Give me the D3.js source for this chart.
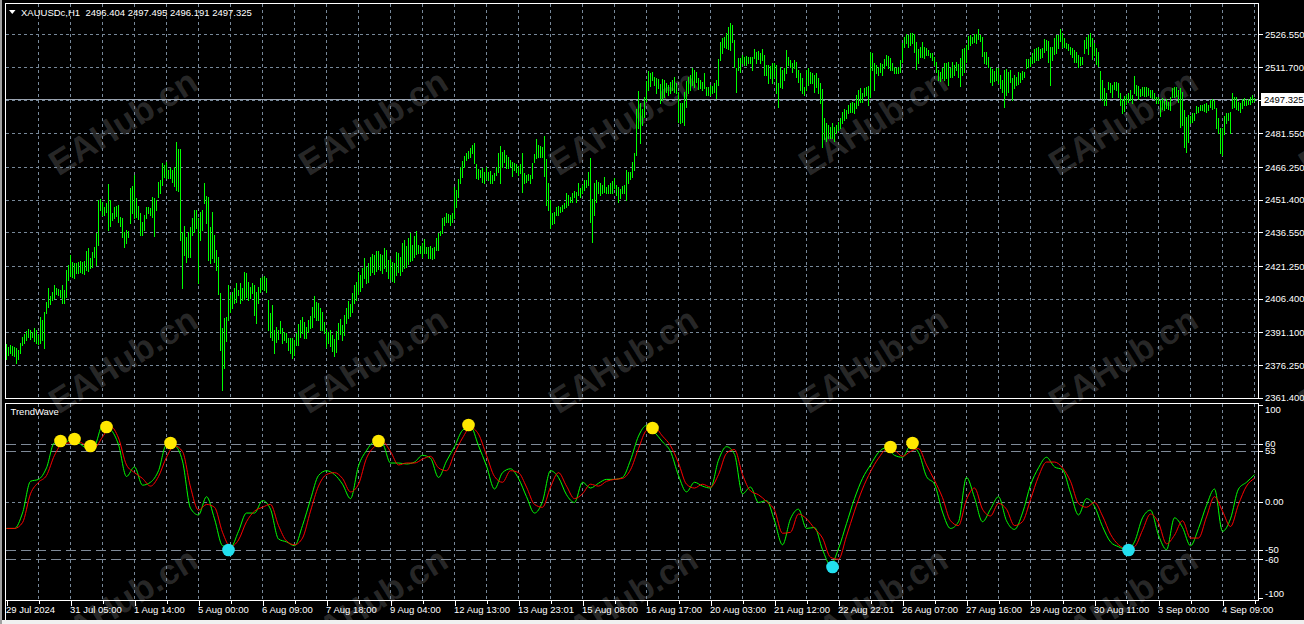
<!DOCTYPE html>
<html>
<head>
<meta charset="utf-8">
<script src="https://cdn.jsdelivr.net/npm/d3@7"></script>
<style>
  html, body { margin: 0; padding: 0; background: #000; }
  svg { display: block; }
  text { font-family: "Liberation Sans", Arial, sans-serif; }
</style>
</head>
<body>
<div id="chartId"></div>
<script>
/* global d3 */

// ---- chart values ----

var symbolName = "XAUUSDc,H1";
var lastQuote = [2496.404, 2497.495, 2496.191, 2497.325];
var bidPrice = 2497.325;
var indicatorName = "TrendWave";

var priceTicks = [2526.55, 2511.7, 2496.85, 2481.55, 2466.25, 2451.4, 2436.55, 2421.25, 2406.4, 2391.1, 2376.25, 2361.4];

var timeLabels = ["29 Jul 2024", "31 Jul 05:00", "1 Aug 14:00", "5 Aug 00:00", "6 Aug 09:00", "7 Aug 18:00",
                  "9 Aug 04:00", "12 Aug 13:00", "13 Aug 23:01", "15 Aug 08:00", "16 Aug 17:00", "20 Aug 03:00",
                  "21 Aug 12:00", "22 Aug 22:01", "26 Aug 07:00", "27 Aug 16:00", "29 Aug 02:00", "30 Aug 11:00",
                  "3 Sep 00:00", "4 Sep 09:00"];

var waveTicks = [100, 60, 53, 0, -50, -60, -100];
var waveLevels = [60, 53, -50, -60];

// H1 bar highs / lows, one per hour
var barHigh = [
  2385.7, 2384.6, 2385.4, 2384.9, 2384.6, 2383.8, 2383.1, 2386.1, 2388.8, 2390.3, 2391.9, 2392.5, 2392.2, 2391.4, 2392.9, 2392.2,
  2389.9, 2397.9, 2396.7, 2400.5, 2405.0, 2411.1, 2407.6, 2409.6, 2412.6, 2411.1, 2410.6, 2410.3, 2412.6, 2410.3, 2419.4, 2421.7,
  2426.3, 2423.2, 2422.5, 2422.5, 2423.2, 2423.7, 2423.2, 2423.7, 2428.2, 2429.3, 2424.7, 2427.8, 2429.7, 2436.1, 2451.2, 2451.6,
  2450.5, 2448.2, 2450.0, 2458.5, 2451.2, 2445.2, 2447.9, 2448.5, 2449.0, 2443.7, 2442.9, 2436.9, 2437.6, 2437.3, 2456.6, 2457.6,
  2462.6, 2452.0, 2448.5, 2445.2, 2441.4, 2444.4, 2448.2, 2448.2, 2447.5, 2452.5, 2452.0, 2451.2, 2459.6, 2460.3, 2467.9, 2467.2,
  2468.7, 2464.9, 2465.6, 2464.9, 2466.4, 2477.8, 2474.3, 2474.3, 2436.9, 2439.4, 2434.6, 2436.9, 2439.1, 2442.9, 2446.7, 2446.7,
  2442.9, 2445.9, 2446.7, 2458.8, 2453.1, 2452.8, 2439.1, 2445.9, 2435.3, 2428.5, 2425.5, 2409.1, 2392.9, 2397.5, 2398.2, 2412.6,
  2408.1, 2409.6, 2411.1, 2413.4, 2410.3, 2413.4, 2411.1, 2418.7, 2417.9, 2414.1, 2411.9, 2413.4, 2412.6, 2409.6, 2411.9, 2415.7,
  2416.1, 2416.7, 2415.7, 2405.8, 2399.7, 2403.5, 2392.2, 2393.7, 2392.2, 2396.4, 2392.9, 2391.4, 2390.6, 2388.4, 2388.4, 2388.4,
  2387.6, 2390.6, 2394.9, 2396.7, 2398.2, 2395.9, 2393.7, 2396.7, 2398.5, 2402.8, 2407.6, 2405.0, 2404.3, 2402.0, 2400.5, 2395.9, 2392.2, 2391.4,
  2392.0, 2390.0, 2388.0, 2391.5, 2395.5, 2397.0, 2394.5, 2399.0, 2402.0, 2405.5, 2404.0, 2409.0, 2412.5, 2414.0, 2418.5, 2417.0, 2420.5,
  2424.9, 2421.0, 2422.5, 2425.5, 2426.6, 2426.2, 2428.1, 2428.1, 2426.6, 2426.1, 2429.3, 2428.5, 2424.0, 2424.3, 2423.0, 2422.5,
  2427.6, 2427.0, 2425.5, 2431.5, 2433.1, 2430.3, 2433.8, 2436.4, 2430.6, 2434.9, 2437.3, 2430.8, 2430.3,
  2431.5, 2433.5, 2430.0, 2430.0, 2430.3, 2429.3, 2429.7, 2433.8, 2436.1, 2437.3, 2443.2, 2443.7, 2445.2, 2444.9, 2444.4, 2445.5,
  2457.3, 2455.8, 2460.6, 2466.4, 2469.1, 2471.2, 2472.8, 2473.7, 2474.7, 2476.2, 2477.0, 2467.6, 2465.2, 2464.9, 2465.6, 2464.1,
  2466.4, 2464.1, 2464.5, 2462.6, 2463.6, 2466.4, 2472.8, 2475.8, 2473.2, 2474.0, 2471.7, 2470.6, 2469.4, 2468.7, 2468.2, 2467.4,
  2466.7, 2467.4, 2472.5, 2463.4, 2462.6, 2463.1, 2462.6, 2467.9, 2472.1, 2479.0, 2476.2, 2475.8, 2475.5, 2480.3, 2469.7, 2458.8,
  2451.2, 2445.5, 2445.9, 2448.2, 2448.5, 2448.2, 2449.0, 2449.7, 2454.3, 2453.5, 2452.8, 2454.3, 2455.5, 2455.0, 2458.8, 2456.5,
  2458.0, 2460.3, 2460.3, 2464.1, 2470.2, 2451.5, 2459.1, 2460.3, 2459.6, 2458.8, 2458.0, 2461.8, 2457.3, 2458.0, 2458.8, 2459.9,
  2461.1, 2458.0, 2457.3, 2456.1, 2457.6, 2458.0, 2464.9, 2464.1, 2464.1, 2468.7, 2472.5, 2492.5, 2500.9, 2495.5,
  2492.4, 2497.9, 2505.5, 2510.0, 2508.8, 2509.6, 2507.3, 2506.8, 2506.1, 2504.0, 2506.1, 2505.8, 2504.6, 2503.5, 2505.0, 2505.8,
  2507.3, 2504.6, 2500.5, 2495.2, 2495.5, 2500.5, 2505.5, 2507.3, 2508.0, 2511.1, 2510.3, 2509.6, 2506.5, 2505.8, 2505.0, 2508.8,
  2502.7, 2502.7, 2503.5, 2503.1, 2504.3, 2505.8, 2515.2, 2523.2, 2524.7, 2525.5, 2527.0, 2530.0, 2531.5, 2530.8, 2524.0, 2511.1,
  2515.6, 2515.6, 2517.1, 2516.4, 2516.7, 2516.1, 2516.4, 2516.4, 2519.7, 2518.7, 2519.1, 2518.2, 2519.7, 2517.1, 2512.6, 2512.6,
  2512.1, 2513.7, 2513.4, 2512.6, 2504.3, 2511.8, 2510.3, 2511.1, 2519.4, 2516.4, 2514.9, 2513.4, 2514.9, 2514.1, 2510.3, 2508.8,
  2506.5, 2502.7, 2510.3, 2511.1, 2509.6, 2508.8, 2508.0, 2508.8, 2506.5, 2504.3, 2501.5, 2488.4, 2486.1, 2485.3, 2484.6, 2486.1,
  2484.6, 2485.3, 2486.8, 2488.4, 2491.4, 2492.4, 2492.2, 2494.4, 2495.2, 2495.9, 2495.2, 2499.0, 2501.2, 2502.0, 2499.7, 2502.0,
  2502.7, 2503.1, 2518.7, 2518.2, 2513.4, 2512.6, 2511.8, 2513.4, 2513.0, 2515.2, 2517.1, 2516.7, 2515.6, 2513.4, 2511.8, 2511.1,
  2511.8, 2514.9, 2522.4, 2525.5, 2526.7, 2526.2, 2527.0, 2527.0, 2526.7, 2523.2, 2519.7, 2520.9, 2523.2, 2520.9, 2520.2, 2519.4,
  2518.2, 2517.9, 2516.4, 2514.1, 2510.3, 2509.6, 2511.1, 2513.4, 2513.4, 2514.1, 2511.1, 2514.1, 2512.6, 2514.1, 2513.0,
  2515.6, 2519.7, 2520.2, 2521.7, 2525.8, 2526.2, 2525.5, 2526.7, 2526.7, 2528.8, 2526.2, 2525.5, 2518.7, 2518.7, 2516.4, 2511.5,
  2510.6, 2510.0, 2511.1, 2511.1, 2508.0, 2505.8, 2510.3, 2510.6, 2509.6, 2510.3, 2506.5, 2508.0, 2507.3, 2509.6, 2508.8, 2510.0,
  2509.6, 2515.2, 2515.2, 2516.4, 2518.2, 2519.7, 2520.2, 2520.9, 2519.7, 2520.2, 2524.4, 2524.0, 2523.7, 2520.9, 2520.6, 2524.7,
  2526.2, 2526.2, 2528.8, 2527.0, 2524.7, 2522.4, 2522.1, 2520.9, 2520.2, 2519.4, 2518.7, 2517.1, 2516.4, 2516.4, 2524.0, 2525.5,
  2526.2, 2527.0, 2524.7, 2522.4, 2520.2, 2518.7, 2510.0, 2505.8, 2502.0, 2499.7, 2505.0, 2504.3, 2503.5, 2505.0, 2505.0, 2504.6,
  2499.7, 2497.0, 2498.5, 2499.0, 2499.7, 2501.2, 2499.0, 2507.6, 2503.5, 2503.1, 2501.5, 2502.7, 2502.7, 2502.4, 2502.0, 2501.2,
  2501.2, 2499.7, 2498.2, 2498.2, 2496.7, 2497.4, 2496.4, 2497.0, 2495.9, 2497.9, 2502.0, 2502.7, 2502.4, 2501.2, 2502.0, 2500.5,
  2492.2, 2489.1, 2489.9, 2489.4, 2490.6, 2490.6, 2494.1, 2493.7, 2494.4, 2494.4, 2494.9, 2495.5, 2494.4, 2496.7, 2497.0, 2496.7,
  2492.9, 2488.4, 2483.8, 2483.8, 2489.4, 2490.6, 2490.9, 2491.4, 2500.0, 2498.2, 2497.9, 2495.9, 2495.2, 2497.0, 2497.4, 2496.7,
  2497.0, 2497.9, 2499.0, 2497.5
];

var barLow = [
  2378.8, 2380.8, 2381.6, 2380.8, 2380.3, 2377.0, 2378.8, 2381.6, 2385.4, 2386.4, 2387.6, 2388.8, 2387.9, 2388.8, 2387.3, 2386.4,
  2385.8, 2386.1, 2387.6, 2383.8, 2400.0, 2402.8, 2404.0, 2405.8, 2406.6, 2408.5, 2408.1, 2407.3, 2404.3, 2404.3, 2407.3, 2414.9,
  2416.7, 2416.4, 2415.7, 2417.9, 2417.9, 2418.7, 2417.9, 2417.6, 2419.4, 2419.1, 2420.2, 2420.9, 2425.5, 2421.7, 2430.8, 2446.7,
  2444.4, 2444.4, 2445.9, 2437.6, 2439.4, 2442.2, 2442.9, 2444.0, 2441.4, 2439.4, 2434.6, 2430.0, 2431.6, 2434.6, 2440.6, 2445.2,
  2442.9, 2443.4, 2442.5, 2435.3, 2435.3, 2437.6, 2442.9, 2445.2, 2444.4, 2443.7, 2434.9, 2446.7, 2452.8, 2454.3, 2458.1, 2461.9,
  2461.1, 2461.1, 2461.1, 2459.6, 2457.6, 2455.8, 2455.5, 2433.1, 2411.1, 2426.3, 2423.2, 2425.5, 2425.5, 2435.3, 2436.9, 2438.4,
  2413.7, 2433.1, 2437.6, 2449.7, 2440.6, 2424.0, 2422.5, 2424.7, 2423.2, 2419.4, 2408.5, 2383.1, 2364.9, 2374.7, 2387.3, 2396.7,
  2400.5, 2402.0, 2404.3, 2405.0, 2408.1, 2404.3, 2405.8, 2406.1, 2407.3, 2405.8, 2406.6, 2408.8, 2399.0, 2395.2, 2404.3, 2409.6,
  2410.6, 2410.3, 2409.6, 2392.2, 2389.1, 2387.6, 2381.6, 2386.9, 2387.9, 2390.6, 2386.1, 2387.6, 2386.9, 2383.1, 2381.6, 2379.3,
  2380.8, 2385.4, 2385.4, 2389.1, 2390.6, 2388.4, 2388.4, 2391.4, 2392.9, 2393.7, 2398.2, 2396.7, 2396.7, 2392.2, 2392.2, 2390.6, 2384.6, 2386.1,
  2385.0, 2382.5, 2380.5, 2382.0, 2388.0, 2390.5, 2387.5, 2390.0, 2395.5, 2397.5, 2398.5, 2400.5, 2404.5, 2406.0, 2408.5, 2410.0, 2411.5,
  2416.0, 2413.5, 2414.0, 2417.0, 2418.5, 2417.5, 2419.0, 2420.0, 2419.5, 2418.0, 2420.5, 2419.0, 2416.0, 2415.5, 2414.5, 2414.0,
  2417.0, 2418.5, 2417.0, 2419.0, 2420.5, 2421.0, 2422.0, 2423.5, 2424.0, 2425.5, 2426.5, 2427.0, 2427.0,
  2425.5, 2427.0, 2427.0, 2425.0, 2425.1, 2424.3, 2425.0, 2428.5, 2428.5, 2435.3, 2436.1, 2439.9, 2441.4, 2441.4, 2439.9, 2441.4,
  2442.9, 2448.2, 2452.8, 2458.8, 2461.8, 2466.4, 2469.4, 2470.2, 2470.6, 2472.8, 2467.9, 2461.1, 2460.6, 2461.5, 2459.6, 2458.8,
  2460.6, 2460.3, 2458.8, 2458.8, 2460.3, 2462.6, 2464.1, 2458.8, 2466.4, 2468.7, 2465.6, 2465.6, 2466.4, 2462.2, 2464.9, 2464.1,
  2462.6, 2463.4, 2455.0, 2458.8, 2459.6, 2460.3, 2458.8, 2461.1, 2468.7, 2470.2, 2470.9, 2470.9, 2470.6, 2462.2, 2449.0, 2446.7,
  2438.4, 2440.3, 2440.6, 2444.4, 2444.4, 2445.9, 2446.4, 2447.5, 2448.2, 2449.0, 2450.5, 2450.5, 2452.8, 2450.5, 2453.5, 2452.8,
  2454.3, 2455.8, 2457.3, 2458.0, 2441.4, 2432.3, 2444.4, 2450.5, 2454.3, 2453.5, 2454.3, 2455.0, 2454.6, 2454.3, 2454.6, 2454.3,
  2456.5, 2453.5, 2450.5, 2452.0, 2454.3, 2454.3, 2451.2, 2459.1, 2460.6, 2461.8, 2464.9, 2471.7, 2483.8, 2477.3,
  2485.3, 2488.8, 2496.4, 2501.2, 2503.1, 2505.8, 2503.5, 2499.7, 2502.0, 2495.2, 2496.7, 2498.2, 2500.5, 2499.0, 2499.7, 2501.2,
  2500.5, 2499.7, 2486.8, 2486.1, 2486.8, 2485.3, 2493.7, 2499.7, 2501.2, 2503.5, 2502.7, 2505.0, 2501.5, 2502.0, 2501.2, 2502.0,
  2499.0, 2499.0, 2499.0, 2499.7, 2500.5, 2497.4, 2503.5, 2514.9, 2517.9, 2520.9, 2520.2, 2519.7, 2519.4, 2523.2, 2511.8, 2500.5,
  2510.3, 2509.6, 2513.4, 2512.6, 2512.6, 2513.4, 2513.7, 2510.3, 2515.6, 2513.4, 2515.2, 2513.7, 2514.9, 2508.0, 2508.0, 2504.3,
  2506.5, 2504.3, 2507.3, 2499.7, 2493.7, 2502.7, 2502.0, 2505.8, 2508.8, 2512.6, 2511.5, 2509.6, 2511.1, 2507.3, 2505.0, 2501.2,
  2499.7, 2499.0, 2501.2, 2503.5, 2504.3, 2504.3, 2500.5, 2502.7, 2499.7, 2495.2, 2475.2, 2478.8, 2478.2, 2479.3, 2479.3, 2479.3,
  2478.2, 2481.8, 2483.1, 2483.8, 2486.1, 2487.6, 2488.4, 2490.6, 2491.4, 2491.4, 2490.6, 2492.9, 2494.4, 2495.9, 2495.9, 2498.5,
  2499.0, 2494.4, 2497.9, 2510.3, 2501.2, 2508.8, 2508.0, 2509.6, 2508.0, 2511.1, 2512.6, 2511.1, 2510.3, 2510.3, 2508.8, 2508.8,
  2508.8, 2509.6, 2514.1, 2520.9, 2522.4, 2520.9, 2521.7, 2522.4, 2518.7, 2510.6, 2513.4, 2516.4, 2516.4, 2515.6, 2517.1, 2517.1,
  2516.4, 2514.9, 2512.6, 2509.6, 2505.8, 2505.5, 2506.5, 2505.8, 2506.5, 2503.5, 2507.3, 2507.3, 2508.0, 2510.3, 2507.3,
  2503.1, 2508.0, 2509.6, 2514.1, 2519.7, 2521.7, 2522.4, 2523.2, 2522.4, 2524.3, 2523.7, 2516.7, 2513.4, 2513.0, 2511.8, 2505.0,
  2503.5, 2505.5, 2505.8, 2504.3, 2502.0, 2500.5, 2493.4, 2499.0, 2500.5, 2505.0, 2496.7, 2502.0, 2503.5, 2504.0, 2505.0, 2506.1,
  2507.3, 2511.1, 2511.8, 2512.1, 2513.4, 2514.1, 2514.9, 2514.9, 2515.6, 2516.1, 2518.7, 2519.4, 2514.1, 2503.5, 2514.9, 2517.6,
  2517.9, 2520.2, 2523.7, 2520.6, 2520.6, 2520.2, 2519.4, 2517.6, 2516.4, 2514.1, 2513.8, 2511.8, 2512.6, 2513.0, 2518.2, 2520.2,
  2517.6, 2521.2, 2515.2, 2517.1, 2513.0, 2512.1, 2497.4, 2496.7, 2494.4, 2494.4, 2501.5, 2500.5, 2498.2, 2501.5, 2501.2, 2498.2,
  2494.4, 2490.6, 2491.8, 2494.9, 2495.9, 2496.7, 2495.5, 2500.0, 2499.0, 2497.0, 2498.5, 2499.0, 2498.5, 2498.5, 2499.0, 2497.9,
  2497.4, 2497.0, 2495.5, 2495.2, 2489.4, 2492.4, 2492.2, 2492.9, 2492.4, 2492.2, 2498.2, 2497.9, 2498.5, 2495.9, 2484.6, 2485.3,
  2475.5, 2473.2, 2477.7, 2486.1, 2486.8, 2487.6, 2490.9, 2491.4, 2492.2, 2492.2, 2491.8, 2491.4, 2492.2, 2493.4, 2492.4, 2492.9,
  2483.8, 2481.5, 2472.4, 2471.7, 2481.2, 2486.1, 2487.6, 2481.8, 2492.9, 2493.7, 2492.4, 2492.2, 2491.4, 2492.9, 2494.4, 2494.4,
  2494.9, 2494.9, 2495.9, 2496.2
];

// TrendWave oscillator, one reading every 4 bars
var waveStep = 4;
var waveMain = [
  -28, -28, -12, 21, 23, 35, 61, 60, 64, 61,
  56, 58, 79, 75, 59, 26, 36, 17, 20, 32,
  59, 58, 42, -7, -14, 5, -18, -46, -48, -31,
  -12, -12, 1, -8, -39, -42, -46, -25, 2, 27,
  32, 28, 18, 3, 37, 53, 62, 60, 40, 40,
  39, 41, 48, 45, 25, 42, 57, 74, 78, 58,
  37, 13, 30, 34, 24, 5, -12, 0, 32, 25,
  7, -1, 20, 14, 19, 23, 23, 25, 43, 68,
  79, 72, 62, 52, 27, 10, 20, 16, 14, 43,
  57, 49, 8, 15, -1, 1, -20, -45, -18, -8,
  -28, -27, -50, -66, -49, -23, 3, 24, 38, 51,
  56, 48, 46, 58, 51, 26, 18, -11, -28, -21,
  25, 4, -21, -8, 5, -20, -29, -12, 17, 35,
  46, 36, 33, 9, -14, 3, -5, -26, -42, -47,
  -50, -42, -17, -9, -35, -50, -17, -27, -46, -28,
  -4, 13, -31, -18, 13, 20, 28
];
var waveSignal = [
  -28, -28, -22, 8, 20, 27, 48, 60, 61, 62,
  58, 56, 67, 78, 66, 38, 30, 24, 16, 26,
  46, 58, 52, 15, -9, -3, -6, -32, -47, -40,
  -21, -10, -6, -3, -25, -41, -45, -38, -10, 16,
  28, 30, 24, 10, 18, 45, 57, 62, 52, 38,
  40, 40, 44, 47, 35, 32, 50, 66, 77, 70,
  48, 26, 20, 32, 30, 15, -3, -6, 15, 30,
  16, 3, 8, 18, 16, 21, 23, 24, 33, 55,
  74, 77, 68, 58, 40, 18, 14, 18, 15, 28,
  50, 54, 28, 11, 7, 0, -9, -33, -32, -13,
  -18, -28, -38, -58, -60, -36, -10, 13, 31, 45,
  54, 53, 47, 52, 55, 38, 22, 4, -20, -25,
  2, 14, -8, -15, -2, -8, -25, -21, 2, 26,
  41, 41, 35, 21, -2, -6, -1, -15, -34, -45,
  -49, -47, -30, -13, -22, -44, -35, -20, -38, -38,
  -16, 5, -10, -26, -3, 16, 24
];

// signal dots
var peakBars = [27, 34, 42, 50, 82, 186, 231, 323, 442, 453];
var peakValues = [62.9, 65, 57.7, 77.4, 60.8, 62.9, 79.5, 76.4, 56.7, 60.8];
var troughBars = [111, 413, 561];
var troughValues = [-50.4, -68.1, -50.4];

var watermarkText = "EAHub.cn";


// ---- drawing ----

var chartModel = {};

onReady(function () {
    chartModel.init();
});

function onReady(fn) {
    if (document.readyState !== "loading") { fn(); } else { document.addEventListener("DOMContentLoaded", fn); }
}

(function(exports) {

    "use strict";

    var full = {w: 1304, h: 624};
    var mainArea = {left: 5.5, right: 1258.5, top: 3.5, bottom: 398.5};
    var subArea = {left: 5.5, right: 1258.5, top: 403.5, bottom: 600.5};

    var gridColor = "#778899";
    var barColor = "#00ff00";

    var svg, xScale, yPrice, yWave;


    exports.init = function() {

        svg = d3.select("#chartId").append("svg")
                .attr("width", full.w)
                .attr("height", full.h)
                .style("background", "#000");

        defineScales();

        drawWatermarks();
        drawGrid();
        drawPriceBars();
        drawWave();
        drawFrames();
        drawPriceAxis();
        drawWaveAxis();
        drawTimeAxis();
        drawTitles();
    };


    function defineScales() {
        xScale = d3.scaleLinear()
                   .domain([0, barHigh.length - 1])
                   .range([6.5, 1254.5]);

        yPrice = d3.scaleLinear()
                   .domain([2361.26, 2540.77])
                   .range([398, 3]);

        yWave = d3.scaleLinear()
                  .domain([-102.4, 102.4])
                  .range([600, 403]);
    }


    function crisp(v) {
        return Math.round(v) + 0.5;
    }


    function drawWatermarks() {
        var centers = [];
        [122, 360, 600].forEach(function(cy) {
            d3.range(6).forEach(function(k) { centers.push([123 + 250 * k, cy]); });
        });

        svg.append("g").selectAll("text")
           .data(centers)
           .enter()
           .append("text")
             .attr("transform", function(d) { return "translate(" + d[0] + "," + d[1] + ") rotate(-32)"; })
             .attr("text-anchor", "middle")
             .attr("dy", "0.35em")
             .style("font-family", "'Liberation Sans', Arial, sans-serif")
             .style("font-weight", "bold")
             .style("font-size", "35px")
             .attr("fill", "#ffffff")
             .attr("fill-opacity", 0.16)
             .text(watermarkText);
    }


    function drawGrid() {
        var gridBars = d3.range(16, barHigh.length, 16);
        var grid = svg.append("g")
                      .attr("stroke", gridColor)
                      .attr("stroke-width", 1)
                      .attr("stroke-dasharray", "3,3")
                      .attr("shape-rendering", "crispEdges");

        // vertical lines, both panes
        [mainArea, subArea].forEach(function(area) {
            grid.append("g").selectAll("line")
                .data(gridBars)
                .enter()
                .append("line")
                  .attr("x1", function(d) { return xScale(d); })
                  .attr("x2", function(d) { return xScale(d); })
                  .attr("y1", area.top)
                  .attr("y2", area.bottom);
        });

        grid.append("g").selectAll("line")
            .data(priceTicks)
            .enter()
            .append("line")
              .attr("x1", mainArea.left)
              .attr("x2", mainArea.right)
              .attr("y1", function(d) { return crisp(yPrice(d)); })
              .attr("y2", function(d) { return crisp(yPrice(d)); });

        grid.append("line")
            .attr("x1", subArea.left)
            .attr("x2", subArea.right)
            .attr("y1", crisp(yWave(0)))
            .attr("y2", crisp(yWave(0)));

        svg.append("g").selectAll("line")
           .data(waveLevels)
           .enter()
           .append("line")
             .attr("x1", subArea.left)
             .attr("x2", subArea.right)
             .attr("y1", function(d) { return crisp(yWave(d)); })
             .attr("y2", function(d) { return crisp(yWave(d)); })
             .attr("stroke", "#7f8a98")
             .attr("stroke-dasharray", "10,5")
             .attr("shape-rendering", "crispEdges");

        svg.append("line")
           .attr("x1", mainArea.left)
           .attr("x2", mainArea.right)
           .attr("y1", crisp(yPrice(bidPrice)))
           .attr("y2", crisp(yPrice(bidPrice)))
           .attr("stroke", "#9aa3b0")
           .attr("stroke-width", 1.5)
           .attr("shape-rendering", "crispEdges");
    }


    function drawPriceBars() {
        svg.append("g").attr("id", "barsGroupId")
           .selectAll("line")
           .data(barHigh)
           .enter()
           .append("line")
             .attr("x1", function(d, i) { return xScale(i); })
             .attr("x2", function(d, i) { return xScale(i); })
             .attr("y1", function(d) { return Math.round(yPrice(d)); })
             .attr("y2", function(d, i) { return Math.round(yPrice(barLow[i])) + 1; })
             .attr("stroke", barColor)
             .attr("stroke-width", 1)
             .attr("shape-rendering", "crispEdges");
    }


    function drawWave() {
        var line = d3.line()
                     .x(function(d, j) { return xScale(j * waveStep); })
                     .y(function(d) { return yWave(d); })
                     .curve(d3.curveMonotoneX);

        svg.append("path")
           .attr("d", line(waveMain))
           .attr("fill", "none")
           .attr("stroke", "#00ff00")
           .attr("stroke-width", 1);

        svg.append("path")
           .attr("d", line(waveSignal))
           .attr("fill", "none")
           .attr("stroke", "#ff0000")
           .attr("stroke-width", 1);

        svg.append("g").selectAll("circle")
           .data(peakBars)
           .enter()
           .append("circle")
             .attr("cx", function(d) { return xScale(d); })
             .attr("cy", function(d, i) { return yWave(peakValues[i]); })
             .attr("r", 6.3)
             .attr("fill", "#ffe800");

        svg.append("g").selectAll("circle")
           .data(troughBars)
           .enter()
           .append("circle")
             .attr("cx", function(d) { return xScale(d); })
             .attr("cy", function(d, i) { return yWave(troughValues[i]); })
             .attr("r", 6.3)
             .attr("fill", "#22e0f0");
    }


    function drawFrames() {
        var frames = svg.append("g")
                        .attr("fill", "none")
                        .attr("stroke", "#ffffff")
                        .attr("shape-rendering", "crispEdges");

        [mainArea, subArea].forEach(function(a) {
            frames.append("rect")
                  .attr("x", a.left)
                  .attr("y", a.top)
                  .attr("width", a.right - a.left)
                  .attr("height", a.bottom - a.top);
        });

        frames.append("line")
              .attr("x1", mainArea.left).attr("x2", mainArea.left)
              .attr("y1", subArea.bottom).attr("y2", 620);

        // terminal window edge
        svg.append("rect").attr("x", 0).attr("y", 620).attr("width", full.w).attr("height", 4).attr("fill", "#f0f0f0");
        svg.append("rect").attr("x", 0).attr("y", 0).attr("width", 2).attr("height", full.h).attr("fill", "#a0a0a0");
    }


    function styleAxis(g) {
        g.select(".domain").remove();
        g.selectAll(".tick line").attr("stroke", "#ffffff").attr("shape-rendering", "crispEdges");
        g.selectAll(".tick text")
         .attr("fill", "#ffffff")
         .style("font-size", "9.5px")
         .style("font-family", "'Liberation Sans', Arial, sans-serif");
    }


    function drawPriceAxis() {
        var axis = d3.axisRight(yPrice)
                     .tickValues(priceTicks)
                     .tickSize(4)
                     .tickPadding(2)
                     .tickFormat(d3.format(".3f"));

        svg.append("g")
           .attr("transform", "translate(" + (mainArea.right + 0.5) + ",0)")
           .call(axis)
           .call(styleAxis);

        var yb = crisp(yPrice(bidPrice));
        svg.append("rect")
           .attr("x", 1261).attr("y", yb - 6.5)
           .attr("width", 43).attr("height", 13)
           .attr("fill", "#ffffff");
        svg.append("text")
           .attr("x", 1264).attr("y", yb + 3.5)
           .attr("fill", "#000000")
           .style("font-size", "9.5px")
           .text(d3.format(".3f")(bidPrice));
    }


    function drawWaveAxis() {
        var axis = d3.axisRight(yWave)
                     .tickValues(waveTicks)
                     .tickSize(4)
                     .tickPadding(2)
                     .tickFormat(function(d) { return d === 0 ? "0.00" : d; });

        var g = svg.append("g")
                   .attr("transform", "translate(" + (subArea.right + 0.5) + ",0)")
                   .call(axis)
                   .call(styleAxis);

        // extreme labels are kept inside the pane
        g.selectAll(".tick text")
         .attr("y", function(d) { return d === 100 ? 4 : (d === -100 ? -4 : 0); });
    }


    function drawTimeAxis() {
        var labelBars = timeLabels.map(function(d, i) { return i * 32; });
        var minorBars = d3.range(16, barHigh.length, 32);

        svg.append("g")
           .attr("transform", "translate(0," + subArea.bottom + ")")
           .call(d3.axisBottom(xScale).tickValues(minorBars).tickSize(3).tickFormat(""))
           .call(styleAxis);

        var g = svg.append("g")
                   .attr("transform", "translate(0," + subArea.bottom + ")")
                   .call(d3.axisBottom(xScale)
                           .tickValues(labelBars)
                           .tickSize(5)
                           .tickFormat(function(d, i) { return timeLabels[i]; }))
                   .call(styleAxis);

        g.selectAll(".tick text")
         .attr("text-anchor", "start")
         .attr("x", -1)
         .attr("y", 12.5)
         .attr("dy", 0);
    }


    function drawTitles() {
        svg.append("path")
           .attr("d", "M9,10 L15.5,10 L12.25,14 Z")
           .attr("fill", "#ffffff");

        svg.append("text")
           .attr("x", 21)
           .attr("y", 15.5)
           .attr("fill", "#ffffff")
           .style("font-size", "9.5px")
           .style("white-space", "pre")
           .text(symbolName + "  " + lastQuote.map(d3.format(".3f")).join(" "));

        svg.append("text")
           .attr("x", 10.5)
           .attr("y", 415)
           .attr("fill", "#ffffff")
           .style("font-size", "9.5px")
           .text(indicatorName);
    }

})(chartModel);
</script>
</body>
</html>
